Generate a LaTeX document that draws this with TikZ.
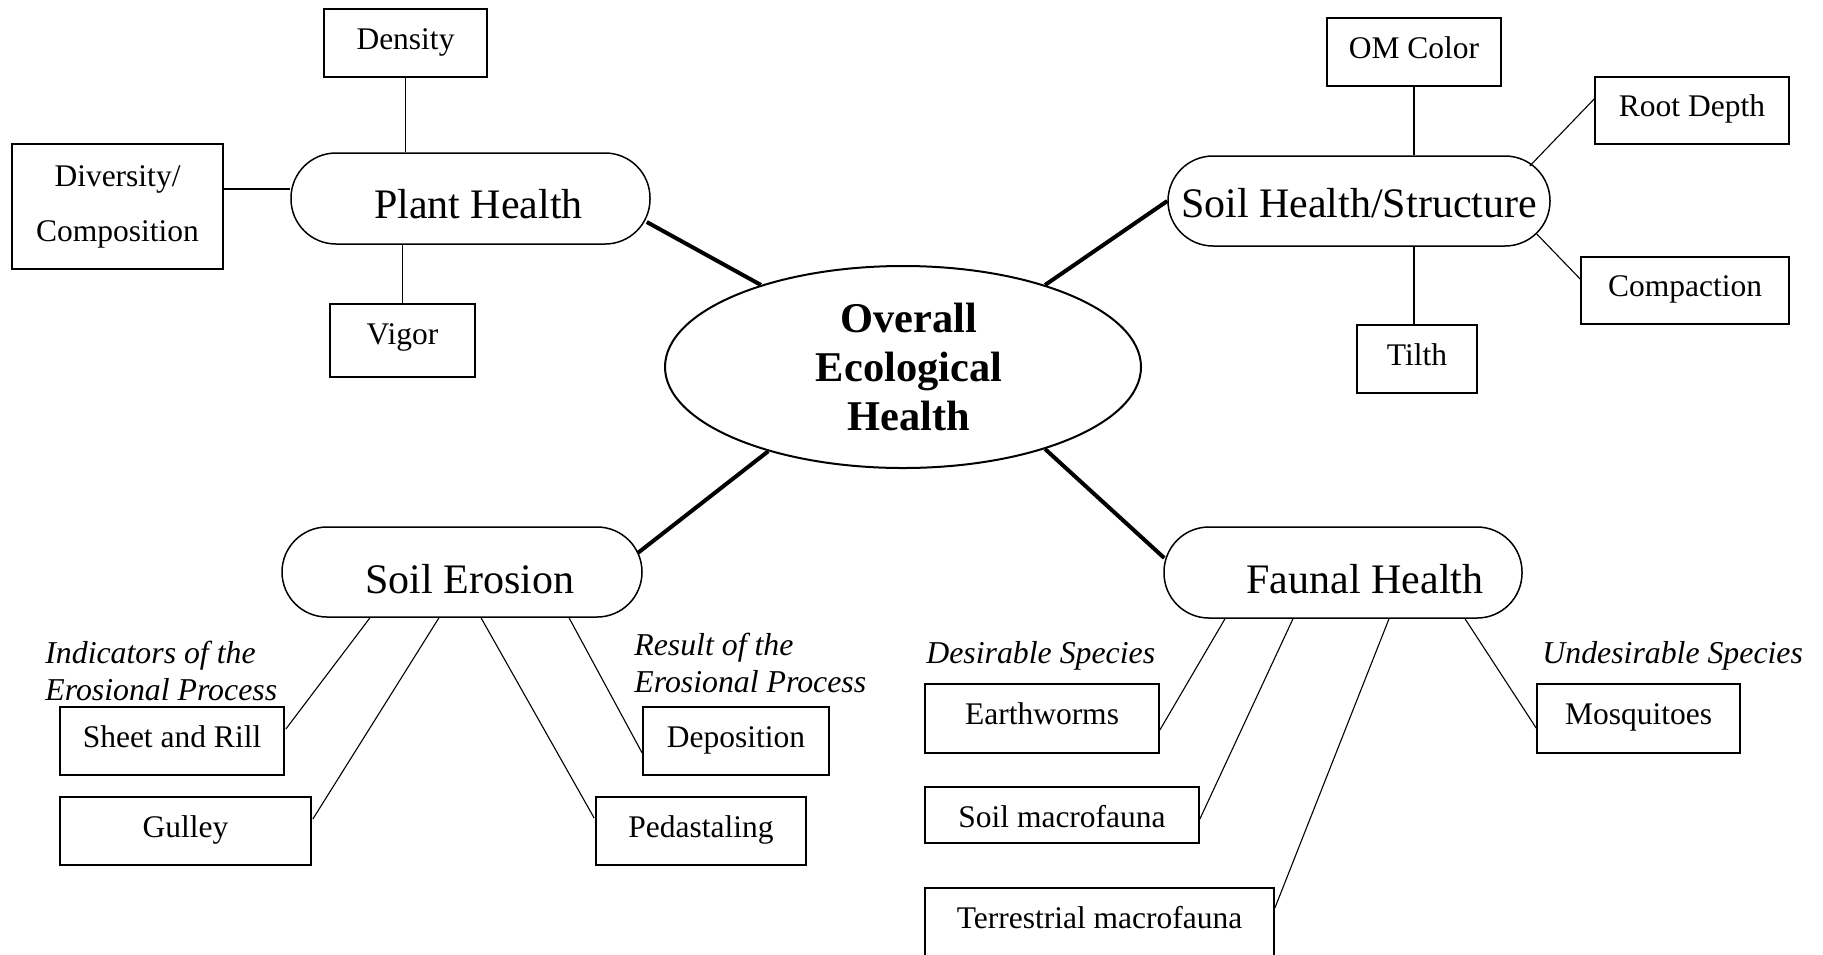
\documentclass[tikz,border=0pt]{standalone}
\usepackage{fontspec}
\setmainfont{Liberation Serif}
\usetikzlibrary{calc,shapes.geometric}
\begin{document}
\begin{tikzpicture}[x=0.5pt,y=-0.5pt]
\tikzset{
 box/.style={draw, line width=0.85pt, inner sep=0pt, font=\fontsize{15.75}{19}\selectfont},
 bt/.style={text height=11pt, text depth=5pt},
 stad/.style={draw, line width=0.75pt, rounded corners=22.5pt, inner sep=0pt, font=\fontsize{21}{25}\selectfont, text depth=0pt},
 leaf/.style={line width=0.55pt},
 hub/.style={line width=2pt},
 lbl/.style={font=\fontsize{15.9}{19}\selectfont\itshape, anchor=base west, inner sep=0pt},
}
\clip (0,0) rectangle (1823,954);
% centre
\node[ellipse, draw, line width=1pt, minimum width=238pt, minimum height=101pt, inner sep=0pt, align=center, font=\fontsize{21.2}{24.5}\selectfont\bfseries] (ctr) at (903,367) {\hspace*{6pt}Overall\\\hspace*{6pt}Ecological\\\hspace*{6pt}Health};
% stadiums
\node[stad, minimum width=179.5pt, minimum height=45.5pt, text height=19.5pt] (plant) at (470.5,198.5) {\hspace*{8pt}Plant Health};
\node[stad, minimum width=191pt, minimum height=45pt, text height=16pt] (soil) at (1359,201) {Soil Health/Structure};
\node[stad, minimum width=180pt, minimum height=45pt, text height=21pt] (erosion) at (462,572) {\hspace*{8pt}Soil Erosion};
\node[stad, minimum width=179pt, minimum height=45.5pt, text height=20.5pt] (faunal) at (1343,572.5) {\hspace*{22pt}Faunal Health};
% boxes
\node[box, bt, minimum width=81.5pt, minimum height=34pt] (density) at (405.5,43) {Density};
\node[box, minimum width=105.5pt, minimum height=62.5pt, align=center, font=\fontsize{15.75}{27.5}\selectfont] (diversity) at (117.5,206.5) {Diversity/\\Composition};
\node[box, minimum width=72.5pt, minimum height=36.5pt, text height=11pt, text depth=7.5pt] (vigor) at (402.5,340.5) {Vigor};
\node[box, bt, minimum width=87pt, minimum height=34pt] (om) at (1414,52) {OM Color};
\node[box, bt, minimum width=97pt, minimum height=33.5pt] (root) at (1692,110.5) {Root Depth};
\node[box, bt, minimum width=104pt, minimum height=33.5pt] (comp) at (1685,290.5) {Compaction};
\node[box, bt, minimum width=60pt, minimum height=34pt] (tilth) at (1417,359) {Tilth};
\node[box, bt, minimum width=112pt, minimum height=34pt] (sheet) at (172,741) {Sheet and Rill};
\node[box, bt, minimum width=125.5pt, minimum height=34pt] (gulley) at (185.5,831) {Gulley};
\node[box, bt, minimum width=93pt, minimum height=34pt] (depo) at (736,741) {Deposition};
\node[box, bt, minimum width=105pt, minimum height=34pt] (ped) at (701,831) {Pedastaling};
\node[box, minimum width=117pt, minimum height=34.5pt, text height=11pt, text depth=5.5pt] (earth) at (1042,718.5) {Earthworms};
\node[box, minimum width=137pt, minimum height=28pt, text height=14pt, text depth=2pt] (soilmac) at (1062,815) {Soil macrofauna};
\node[box, minimum width=174.5pt, minimum height=34.5pt, text height=11pt, text depth=5.5pt] (terr) at (1099.5,922.5) {Terrestrial macrofauna};
\node[box, minimum width=101.5pt, minimum height=34.5pt, text height=11pt, text depth=5.5pt] (mosq) at (1638.5,718.5) {Mosquitoes};
% labels
\node[lbl] (ind1) at (45,663) {Indicators of the};
\node[lbl] (ind2) at (45,700) {Erosional Process};
\node[lbl] (res1) at (634,655) {Result of the};
\node[lbl] (res2) at (634,692) {Erosional Process};
\node[lbl] (des) at (926,663) {Desirable Species};
\node[lbl] (undes) at (1542,663) {Undesirable Species};
% plant health connectors
\draw[leaf] (density.south) -- (density.south |- plant.north);
\draw[leaf] (vigor.north) -- (vigor.north |- plant.south);
\coordinate (dv) at ($(diversity.east)+(0,-17.5)$);
\draw[leaf] (dv) -- (dv -| plant.west);
% hub connectors
\draw[hub] ($(plant.east)+(-4,23.5)$) -- (ctr.150);
\draw[hub] (ctr.30) -- (soil.west);
\draw[hub] (ctr.212) -- ($(erosion.east)+(-5,-19)$);
\draw[hub] (ctr.-30) -- ($(faunal.west)+(1,-14.5)$);
% soil health connectors
\draw[leaf] (om.south) -- (om.south |- soil.north);
\draw[leaf] (tilth.north -| om.south) -- (om.south |- soil.south);
\draw[leaf] ($(soil.east)+(-21,-35)$) -- ($(root.west)+(0,-11.5)$);
\draw[leaf] ($(soil.east)+(-14,33)$) -- ($(comp.west)+(0,-11.5)$);
% erosion connectors
\draw[leaf] ($(erosion.south)+(-92,0)$) -- ($(sheet.east)+(1,-12)$);
\draw[leaf] ($(erosion.south)+(-23,0)$) -- ($(gulley.east)+(1,-12)$);
\draw[leaf] ($(erosion.south)+(19,0)$) -- ($(ped.west)+(-1,-13)$);
\draw[leaf] ($(erosion.south)+(107,0)$) -- ($(depo.west)+(0,12)$);
% faunal connectors
\draw[leaf] ($(faunal.south)+(-118,0)$) -- ($(earth.east)+(0,11.5)$);
\draw[leaf] ($(faunal.south)+(-50,0)$) -- ($(soilmac.east)+(0,4)$);
\draw[leaf] ($(faunal.south)+(46,0)$) -- ($(terr.east)+(0,-14.5)$);
\draw[leaf] ($(faunal.south)+(122,0)$) -- ($(mosq.west)+(0,9.5)$);
\end{tikzpicture}
\end{document}
